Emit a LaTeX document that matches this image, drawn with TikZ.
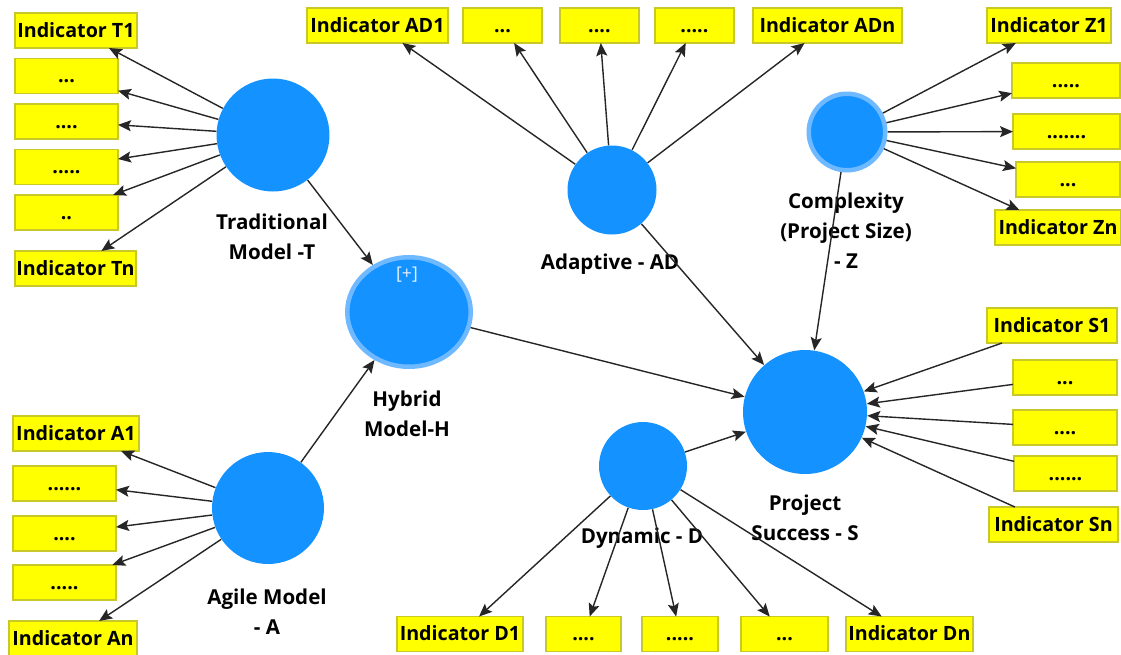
\documentclass[tikz,border=0pt]{standalone}
\usepackage{fontspec}
\setmainfont{Open Sans}
\usetikzlibrary{arrows.meta, positioning, shapes.geometric}
\definecolor{lvblue}{RGB}{20,146,255}
\definecolor{ringblue}{RGB}{110,185,255}
\definecolor{boxyellow}{RGB}{255,255,0}
\definecolor{boxline}{RGB}{200,200,40}
\tikzset{%
  latent/.style={circle, fill=lvblue, inner sep=0mm},
  ring/.style={draw=ringblue, line width=0.9mm},
  indicator/.style={
    rectangle,
    draw=boxline,
    fill=boxyellow,
    line width=0.8pt,
    minimum height=7mm,
    inner sep=0mm,
    outer sep=0pt,
    text height=1.6ex,
    text depth=0.2ex,
    font=\fontsize{11.2}{13}\selectfont\bfseries
  },
  lab/.style={align=center, font=\fontsize{11.7}{17}\selectfont\bfseries},
  edge/.style={draw=black!85, line width=0.8pt, -{Stealth[length=2.6mm, width=2.2mm, inset=0.5mm]}}
}

\begin{document}
\begin{tikzpicture}[x=0.02cm, y=-0.02cm]
  \useasboundingbox (0,0) rectangle (1121,654);

  % latent variables
  \node[latent, minimum size=22.6mm] (T) at (273,135) {};
  \node[latent, ring, ellipse, minimum width=24.7mm, minimum height=21.9mm] (H) at (409,312) {};
  \node[font=\fontsize{10}{12}\selectfont, text=white!88!lvblue] (Hplus) at (407,275) {[+]};
  \node[latent, minimum size=17.8mm] (AD) at (612,190) {};
  \node[latent, ring, minimum size=15.3mm] (Z) at (847,132) {};
  \node[latent, minimum size=24.8mm] (S) at (805,412) {};
  \node[latent, minimum size=22.4mm] (A) at (268,508) {};
  \node[latent, minimum size=17.6mm] (D) at (643,466) {};

  \node[lab] (Tl) at (272,237) {Traditional\\Model -T};
  \node[lab] (Hl) at (407,414) {Hybrid\\Model-H};
  \node[lab] (ADl) at (610,264) {Adaptive - AD};
  \node[lab] (Zl) at (846,231) {Complexity\\(Project Size)\\- Z};
  \node[lab] (Sl) at (805,518) {Project\\Success - S};
  \node[lab] (Al) at (267,612) {Agile Model\\- A};
  \node[lab] (Dl) at (642,538) {Dynamic - D};

  % indicators T
  \node[indicator, minimum width=24.4mm, anchor=north west] (T1) at (15,13) {Indicator T1};
  \node[indicator, minimum width=20.6mm, below=2.1mm of T1.south west, anchor=north west] (T2) {...};
  \node[indicator, minimum width=20.6mm, below=2.1mm of T2.south west, anchor=north west] (T3) {....};
  \node[indicator, minimum width=20.6mm, below=2.1mm of T3.south west, anchor=north west] (T4) {.....};
  \node[indicator, minimum width=20.6mm, below=2.1mm of T4.south west, anchor=north west] (T5) {..};
  \node[indicator, minimum width=24.2mm, below=4.2mm of T5.south west, anchor=north west] (Tn) {Indicator Tn};

  % indicators A
  \node[indicator, minimum width=25.2mm, anchor=north west] (A1) at (13,416) {Indicator A1};
  \node[indicator, minimum width=20.6mm, below=3mm of A1.south west, anchor=north west] (A2) {......};
  \node[indicator, minimum width=20.6mm, below=3mm of A2.south west, anchor=north west] (A3) {....};
  \node[indicator, minimum width=20.6mm, below=2.8mm of A3.south west, anchor=north west] (A4) {.....};
  \node[indicator, minimum width=25.6mm, below=4.2mm of A4.south west, anchor=north west, xshift=-0.8mm] (An) {Indicator An};

  % indicators AD
  \node[indicator, minimum width=28.2mm] (AD1) at (377.5,25.5) {Indicator AD1};
  \node[indicator, minimum width=15.8mm, right=3mm of AD1] (AD2) {...};
  \node[indicator, minimum width=15.8mm, right=3.6mm of AD2] (AD3) {....};
  \node[indicator, minimum width=15.8mm, right=3.2mm of AD3] (AD4) {.....};
  \node[indicator, minimum width=29.8mm, right=3.8mm of AD4] (ADn) {Indicator ADn};

  % indicators Z
  \node[indicator, minimum width=24.8mm, anchor=north west] (Z1) at (987,8) {Indicator Z1};
  \node[indicator, minimum width=21.6mm, anchor=north west] (Z2) at (1012,63) {.....};
  \node[indicator, minimum width=21.4mm, anchor=north west] (Z3) at (1013,114) {.......};
  \node[indicator, minimum width=20.8mm, anchor=north west] (Z4) at (1016,162) {...};
  \node[indicator, minimum width=25.2mm, anchor=north west] (Zn) at (995,210) {Indicator Zn};

  % indicators S
  \node[indicator, minimum width=26mm, anchor=north east] (S1) at (1117,308) {Indicator S1};
  \node[indicator, minimum width=20.8mm, anchor=north east] (S2) at (1117,360) {...};
  \node[indicator, minimum width=20.8mm, anchor=north east] (S3) at (1117,410) {....};
  \node[indicator, minimum width=20.6mm, anchor=north east] (S4) at (1117,456) {......};
  \node[indicator, minimum width=25.8mm, anchor=north east] (Sn) at (1118,507) {Indicator Sn};

  % indicators D
  \node[indicator, minimum width=25.2mm] (D1) at (460,634) {Indicator D1};
  \node[indicator, minimum width=15mm, right=4.6mm of D1] (D2) {....};
  \node[indicator, minimum width=15.2mm, right=4.2mm of D2] (D3) {.....};
  \node[indicator, minimum width=17.4mm, right=4.6mm of D3] (D4) {...};
  \node[indicator, minimum width=25.4mm, right=3.6mm of D4] (Dn) {Indicator Dn};

  % outer model
  \draw[edge] (T) -- (T1);
  \draw[edge] (T) -- (T2);
  \draw[edge] (T) -- (T3);
  \draw[edge] (T) -- (T4);
  \draw[edge] (T) -- (T5);
  \draw[edge] (T) -- (Tn);

  \draw[edge] (A) -- (A1);
  \draw[edge] (A) -- (A2);
  \draw[edge] (A) -- (A3);
  \draw[edge] (A) -- (A4);
  \draw[edge] (A) -- (An);

  \draw[edge] (AD) -- (AD1);
  \draw[edge] (AD) -- (AD2);
  \draw[edge] (AD) -- (AD3);
  \draw[edge] (AD) -- (AD4);
  \draw[edge] (AD) -- (ADn);

  \draw[edge] (Z) -- (Z1);
  \draw[edge] (Z) -- (Z2);
  \draw[edge] (Z) -- (Z3);
  \draw[edge] (Z) -- (Z4);
  \draw[edge] (Z) -- (Zn);

  \draw[edge] (D) -- (D1);
  \draw[edge] (D) -- (D2);
  \draw[edge] (D) -- (D3);
  \draw[edge] (D) -- (D4);
  \draw[edge] (D) -- (Dn);

  \draw[edge] (S1) -- (S);
  \draw[edge] (S2) -- (S);
  \draw[edge] (S3) -- (S);
  \draw[edge] (S4) -- (S);
  \draw[edge] (Sn) -- (S);

  % inner model
  \draw[edge] (T) -- (H);
  \draw[edge] (A) -- (H);
  \draw[edge] (H) -- (S);
  \draw[edge] (AD) -- (S);
  \draw[edge] (Z) -- (S);
  \draw[edge] (D) -- (S);
\end{tikzpicture}
\end{document}
